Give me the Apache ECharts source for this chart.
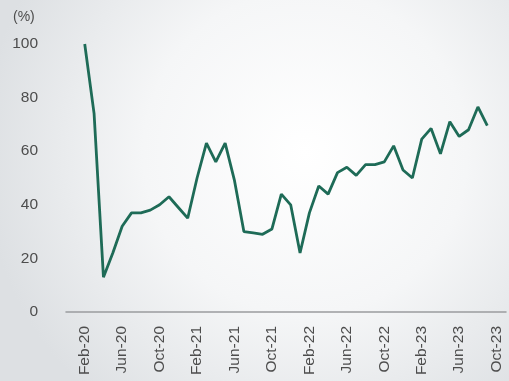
<!DOCTYPE html>
<html>
<head>
<meta charset="utf-8">
<script src="https://cdn.jsdelivr.net/npm/echarts@6/dist/echarts.min.js"></script>
<style>
  html, body { margin: 0; padding: 0; }
  #chart { width: 509px; height: 381px; }
</style>
</head>
<body>
<div id="chart"></div>
<script>
// months shown on the axis (Dec-19 and Jan-20, Oct-23 and Nov-23 are empty padding)
var months = ['Dec-19', 'Jan-20',
  'Feb-20', 'Mar-20', 'Apr-20', 'May-20', 'Jun-20', 'Jul-20', 'Aug-20', 'Sep-20', 'Oct-20', 'Nov-20', 'Dec-20',
  'Jan-21', 'Feb-21', 'Mar-21', 'Apr-21', 'May-21', 'Jun-21', 'Jul-21', 'Aug-21', 'Sep-21', 'Oct-21', 'Nov-21', 'Dec-21',
  'Jan-22', 'Feb-22', 'Mar-22', 'Apr-22', 'May-22', 'Jun-22', 'Jul-22', 'Aug-22', 'Sep-22', 'Oct-22', 'Nov-22', 'Dec-22',
  'Jan-23', 'Feb-23', 'Mar-23', 'Apr-23', 'May-23', 'Jun-23', 'Jul-23', 'Aug-23', 'Sep-23', 'Oct-23', 'Nov-23'];

// values Feb-20 .. Sep-23 (%)
var values = [100, 74, 13, 22, 32, 37, 37, 38, 40, 43, 39,
  35, 50, 63, 56, 63, 49, 30, 29.5, 29, 31, 44, 40,
  22, 37, 47, 44, 52, 54, 51, 55, 55, 56, 62, 53,
  50, 64.5, 68.5, 59, 71, 65.5, 68, 76.5, 69.5];

var yTicks = [0, 20, 40, 60, 80, 100];
var firstLabel = 2; // index of Feb-20

var seriesData = [null, null].concat(values);

var textColor = '#4d4d4d';
var myChart = echarts.init(document.getElementById('chart'));
var option = {
  backgroundColor: {
    type: 'radial', x: 0.6, y: 0.4, r: 0.85,
    colorStops: [
      { offset: 0, color: '#ffffff' },
      { offset: 0.5, color: '#f5f6f7' },
      { offset: 1, color: '#dde0e3' }
    ]
  },
  animation: false,
  title: {
    text: '(%)',
    left: 8,
    top: 5,
    textStyle: { fontSize: 14, fontWeight: 'normal', color: textColor, fontFamily: 'Liberation Sans' }
  },
  grid: { left: 66, right: 3, top: 44, bottom: 69 },
  xAxis: {
    type: 'category',
    data: months,
    boundaryGap: false,
    axisLine: { lineStyle: { color: '#9a9c9e', width: 1.5 } },
    axisTick: { show: false },
    axisLabel: {
      rotate: 90,
      margin: 14,
      color: textColor,
      fontSize: 15.5,
      fontFamily: 'Liberation Sans',
      interval: function (i) { return i >= firstLabel && (i - firstLabel) % 4 === 0; }
    },
    splitLine: { show: false }
  },
  yAxis: {
    type: 'value',
    min: yTicks[0],
    max: yTicks[yTicks.length - 1],
    interval: 20,
    axisLine: { show: false },
    axisTick: { show: false },
    splitLine: { show: false },
    axisLabel: { color: textColor, fontSize: 15.5, margin: 28, fontFamily: 'Liberation Sans' }
  },
  series: [{
    type: 'line',
    data: seriesData,
    symbol: 'none',
    lineStyle: { color: '#1e6b57', width: 2.8 },
    connectNulls: false
  }]
};
myChart.setOption(option);
</script>
</body>
</html>
